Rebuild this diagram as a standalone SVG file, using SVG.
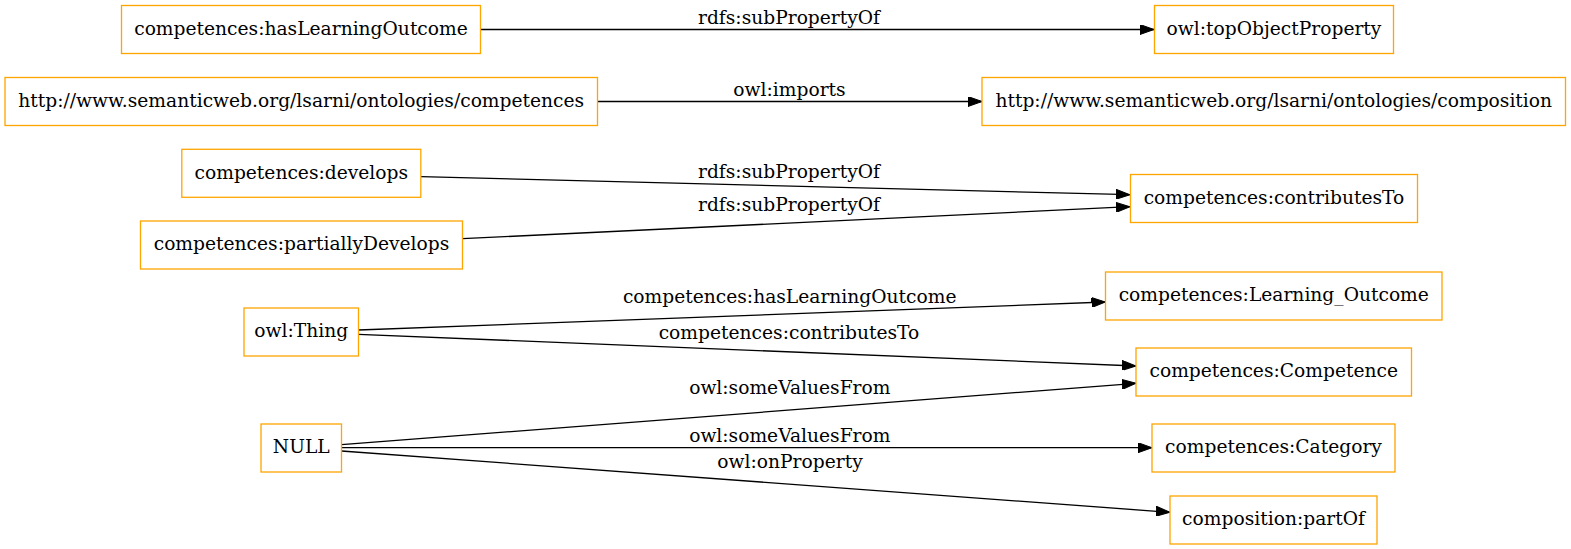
<svg xmlns="http://www.w3.org/2000/svg" width="1571" height="549" viewBox="0 0 1571 549">
<style>
.node rect{fill:#ffffff;stroke:#ffa500;stroke-width:1.3}
.node text,.lbl{font-family:"DejaVu Serif",serif;font-size:18.67px;fill:#000000;text-anchor:middle}
.edge{stroke:#000000;stroke-width:1.3;fill:none;marker-end:url(#arr)}
</style>
<defs>
<marker id="arr" viewBox="0 0 14 10" refX="14" refY="5" markerWidth="14" markerHeight="10" markerUnits="userSpaceOnUse" orient="auto">
<path d="M0,0 L14,5 L0,10 z" fill="#000000" stroke="#000000" stroke-width="1"/>
</marker>
</defs>
<rect x="0" y="0" width="1571" height="549" fill="#ffffff"/>
<g id="connectors">
<line class="edge" x1="480.6" y1="29.5" x2="1154" y2="29.5"/>
<line class="edge" x1="597.5" y1="101.5" x2="982" y2="101.5"/>
<line class="edge" x1="421" y1="176.7" x2="1130" y2="194.7"/>
<line class="edge" x1="462.5" y1="238.7" x2="1130" y2="206.7"/>
<line class="edge" x1="358.5" y1="330" x2="1105.5" y2="302"/>
<line class="edge" x1="358.5" y1="334.3" x2="1136" y2="366"/>
<line class="edge" x1="341.5" y1="444.7" x2="1136" y2="383.3"/>
<line class="edge" x1="341.5" y1="447.7" x2="1152" y2="447.7"/>
<line class="edge" x1="341.5" y1="451" x2="1170" y2="512.3"/>
<text class="lbl" x="789" y="24">rdfs:subPropertyOf</text>
<text class="lbl" x="789.5" y="95.7">owl:imports</text>
<text class="lbl" x="789" y="178.3">rdfs:subPropertyOf</text>
<text class="lbl" x="789" y="210.7">rdfs:subPropertyOf</text>
<text class="lbl" x="789.7" y="303.3">competences:hasLearningOutcome</text>
<text class="lbl" x="789" y="339.3">competences:contributesTo</text>
<text class="lbl" x="789.8" y="394.3">owl:someValuesFrom</text>
<text class="lbl" x="789.8" y="442.3">owl:someValuesFrom</text>
<text class="lbl" x="790" y="467.7">owl:onProperty</text>
</g>
<g id="n_hasLearningOutcome" class="node"><rect x="121.5" y="5.5" width="359" height="48"/><text x="301" y="34.5">competences:hasLearningOutcome</text></g>
<g id="n_competencesOnt" class="node"><rect x="5" y="77.5" width="592.5" height="48"/><text x="301.25" y="106.5">http://www.semanticweb.org/lsarni/ontologies/competences</text></g>
<g id="n_develops" class="node"><rect x="181.8" y="149.3" width="239" height="48"/><text x="301.3" y="178.5">competences:develops</text></g>
<g id="n_partiallyDevelops" class="node"><rect x="140.5" y="221" width="322" height="48"/><text x="301.5" y="250">competences:partiallyDevelops</text></g>
<g id="n_Thing" class="node"><rect x="244" y="308" width="114.5" height="48"/><text x="301.25" y="337">owl:Thing</text></g>
<g id="n_NULL" class="node"><rect x="261" y="424" width="80.5" height="48"/><text x="301.25" y="453">NULL</text></g>
<g id="n_topObjectProperty" class="node"><rect x="1154.5" y="5.5" width="239" height="48"/><text x="1274" y="34.5">owl:topObjectProperty</text></g>
<g id="n_compositionOnt" class="node"><rect x="982" y="77.5" width="583.5" height="48"/><text x="1273.75" y="106.5">http://www.semanticweb.org/lsarni/ontologies/composition</text></g>
<g id="n_contributesTo" class="node"><rect x="1130.5" y="174.5" width="287" height="48"/><text x="1274" y="203.5">competences:contributesTo</text></g>
<g id="n_Learning_Outcome" class="node"><rect x="1105.5" y="272" width="336.5" height="48"/><text x="1273.75" y="301">competences:Learning_Outcome</text></g>
<g id="n_Competence" class="node"><rect x="1136" y="348" width="275.5" height="48"/><text x="1273.75" y="377">competences:Competence</text></g>
<g id="n_Category" class="node"><rect x="1152" y="424" width="243" height="48"/><text x="1273.5" y="453">competences:Category</text></g>
<g id="n_partOf" class="node"><rect x="1170" y="496" width="207" height="48"/><text x="1273.5" y="525">composition:partOf</text></g>
</svg>
